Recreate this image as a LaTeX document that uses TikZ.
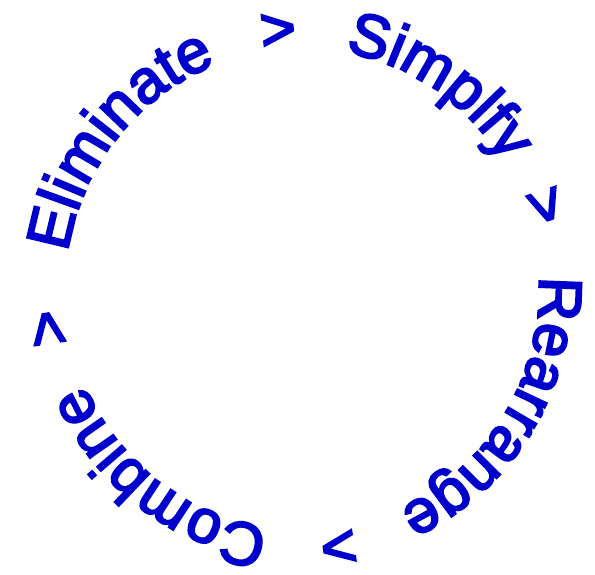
\documentclass[tikz,border=0pt]{standalone}
\usepackage{fontspec}
\newfontfamily\arcfont[FakeBold=3.5]{Liberation Sans}
\usetikzlibrary{decorations.text}
\definecolor{myblue}{RGB}{0,0,205}
\newcommand\ringword[2]{%
  \path[decorate,decoration={text along path,text align=center,
    text={|\arcfont\fontsize{61}{72}\selectfont\color{myblue}|#2}}]
    (C) ++(#1+60:237pt and 241pt)
    arc[start angle=#1+60,end angle=#1-60,x radius=237pt,y radius=241pt];}
\begin{document}
\begin{tikzpicture}[x=1pt,y=1pt]
\useasboundingbox (0,0) rectangle (595,575);
\coordinate (C) at (302,286);
\ringword{141}{Eliminate}
\ringword{95.3}{>}
\ringword{55.8}{Simplfy}
\ringword{18.9}{>}
\ringword{-31.6}{Rearrange}
\ringword{-81.9}{>}
\ringword{-127.1}{Combine}
\ringword{-171.2}{>}
\end{tikzpicture}
\end{document}
